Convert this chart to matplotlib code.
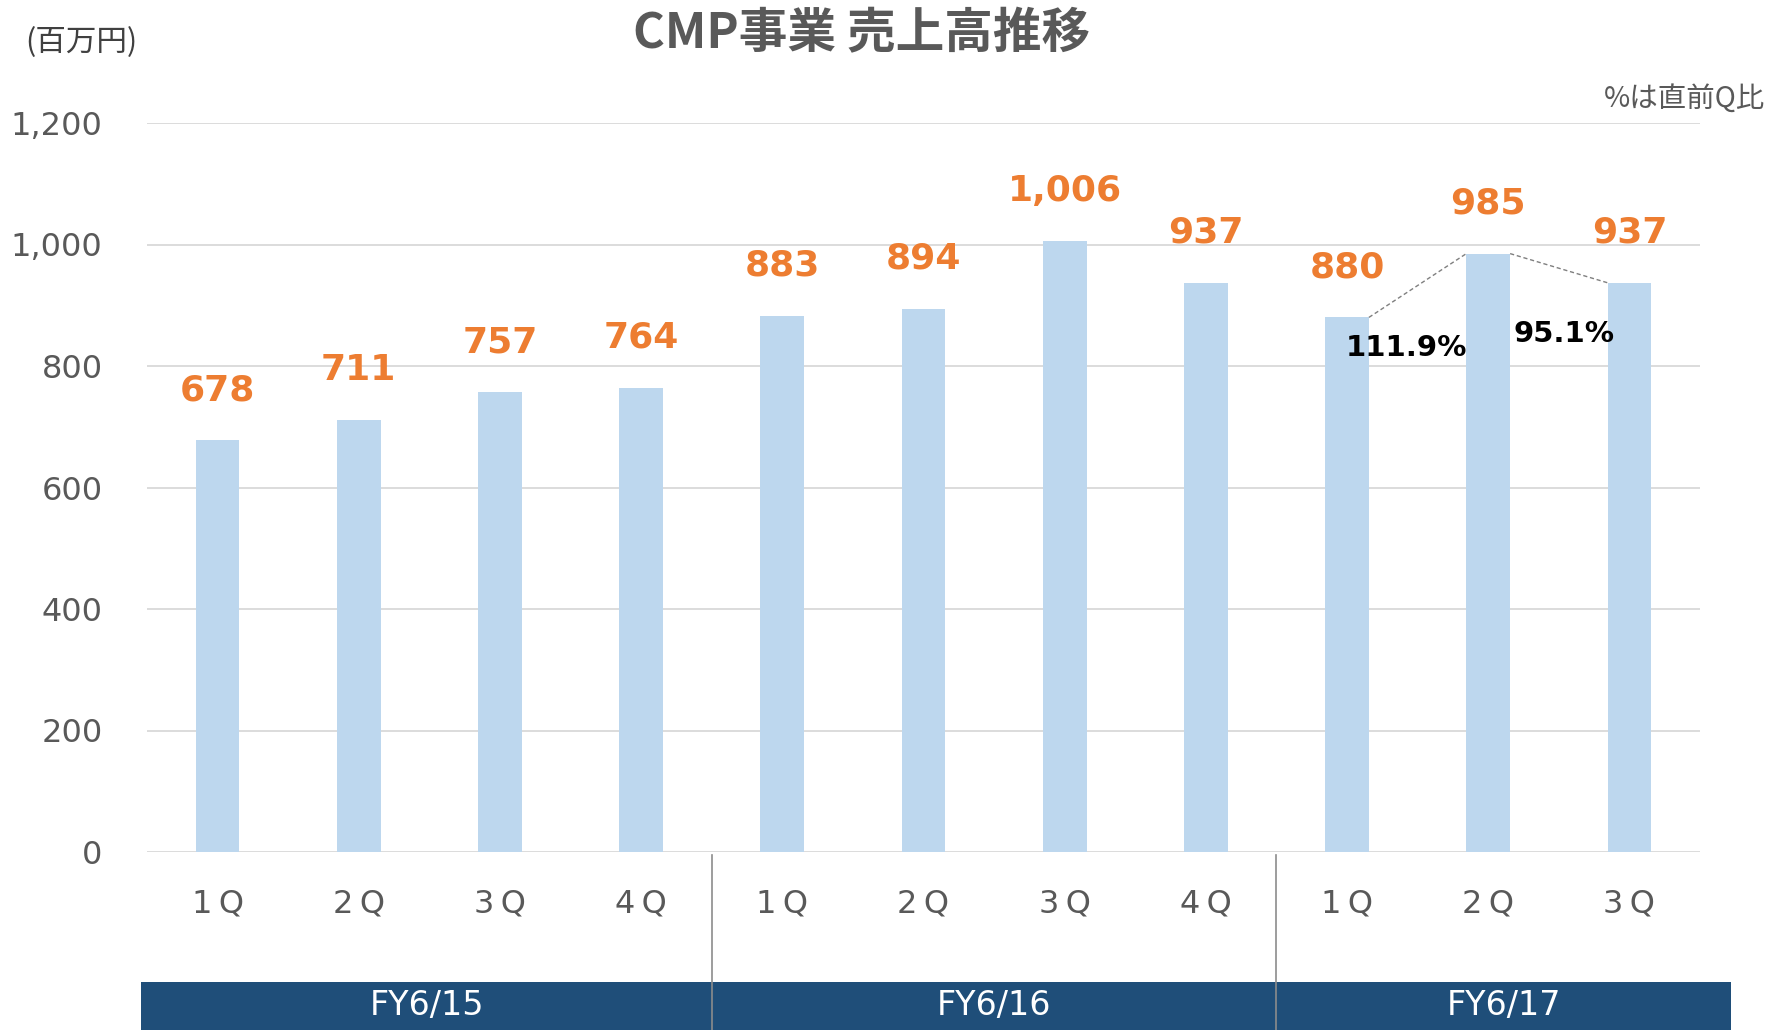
import matplotlib
matplotlib.use("Agg")
import matplotlib.pyplot as plt
from matplotlib.patches import Rectangle
from matplotlib.transforms import blended_transform_factory

plt.rcParams['font.family'] = ['DejaVu Sans', 'Noto Sans CJK JP']

# ---- data ----
quarters = ["1Q", "2Q", "3Q", "4Q", "1Q", "2Q", "3Q", "4Q", "1Q", "2Q", "3Q"]
sales = [678, 711, 757, 764, 883, 894, 1006, 937, 880, 985, 937]
fiscal_years = ["FY6/15", "FY6/16", "FY6/17"]
fy_sizes = [4, 4, 3]
qoq_labels = ["111.9%", "95.1%"]
y_ticks = [0, 200, 400, 600, 800, 1000, 1200]
title = "CMP事業 売上高推移"
unit_label = "(百万円)"
note_label = "%は直前Q比"

BAR = "#BDD7EE"
ORANGE = "#ED7D31"
GRAY = "#595959"
NAVY = "#1F4E79"
GRID = "#D9D9D9"

W, H = 1771, 1030
fig = plt.figure(figsize=(W / 100, H / 100), dpi=100)
ax_left, ax_right, ax_bottom, ax_top = 147, 1700, 852, 123
ax = fig.add_axes([ax_left / W, 1 - ax_bottom / H, (ax_right - ax_left) / W, (ax_bottom - ax_top) / H])

x = list(range(len(sales)))
bw = 0.31
ax.bar(x, sales, width=bw, color=BAR, zorder=3)
ax.set_xlim(-0.5, len(sales) - 0.5)
ax.set_ylim(0, 1200)
ax.set_yticks(y_ticks)
ax.set_yticklabels([f"{v:,}" for v in y_ticks], fontsize=23, color=GRAY)
ax.yaxis.grid(True, color=GRID, linewidth=1.3, zorder=0)
ax.set_axisbelow(True)
for s in ax.spines.values():
    s.set_visible(False)
ax.tick_params(axis='y', length=0, pad=32)
ax.set_xticks(x)
ax.set_xticklabels([q[0] + "\u2009" + q[1] for q in quarters], fontsize=23, color=GRAY)
ax.tick_params(axis='x', length=0, pad=26)

# value labels
for xi, v in zip(x, sales):
    ax.annotate(f"{v:,}", (xi, v), xytext=(0, 50), textcoords='offset pixels',
                ha='center', va='center', fontsize=26, fontweight='bold', color=ORANGE)

# quarter-on-quarter connectors
n = len(sales)
for i in (n - 3, n - 2):
    ax.plot([x[i] + bw / 2, x[i + 1] - bw / 2], [sales[i], sales[i + 1]],
            color="#7F7F7F", linestyle=(0, (3, 2)), linewidth=1, zorder=4)
ax.text(8.42, 829, qoq_labels[0], ha='center', va='center', fontsize=21, fontweight='bold', color='black', zorder=5)
ax.text(9.535, 852, qoq_labels[1], ha='center', va='center', fontsize=21, fontweight='bold', color='black', zorder=5)

# fiscal year band
trans = blended_transform_factory(ax.transData, fig.transFigure)
band_y0 = 1 - 1030 / H
band_h = (1030 - 982) / H
edges = [-0.54]
acc = -0.5
for s in fy_sizes:
    acc += s
    edges.append(acc)
edges[-1] = len(sales) - 0.5 + 0.22
for i, fy in enumerate(fiscal_years):
    x0, x1 = edges[i], edges[i + 1]
    ax.add_patch(Rectangle((x0, band_y0), x1 - x0, band_h, transform=trans,
                           facecolor=NAVY, edgecolor='none', clip_on=False, zorder=1))
    ax.text((x0 + x1) / 2, band_y0 + band_h / 2, fy, transform=trans, ha='center', va='center',
            fontsize=24, color='white', zorder=2)
for e in edges[1:-1]:
    ax.plot([e, e], [1 - 855 / H, 0], transform=trans, color="#8C8C8C", linewidth=1.2,
            clip_on=False, zorder=3)

# titles
fig.text(862 / W, 1 - 34 / H, title, ha='center', va='center', fontsize=35, fontweight='bold',
         color=GRAY, family=['Noto Sans CJK JP', 'DejaVu Sans'])
fig.text(25 / W, 1 - 43 / H, unit_label, ha='left', va='center', fontsize=22, color='#404040',
         family=['Noto Sans CJK JP', 'DejaVu Sans'])
fig.text(1765 / W, 1 - 99 / H, note_label, ha='right', va='center', fontsize=20.5, color=GRAY,
         family=['Noto Sans CJK JP', 'DejaVu Sans'])

fig.savefig("out.png", dpi=100)
